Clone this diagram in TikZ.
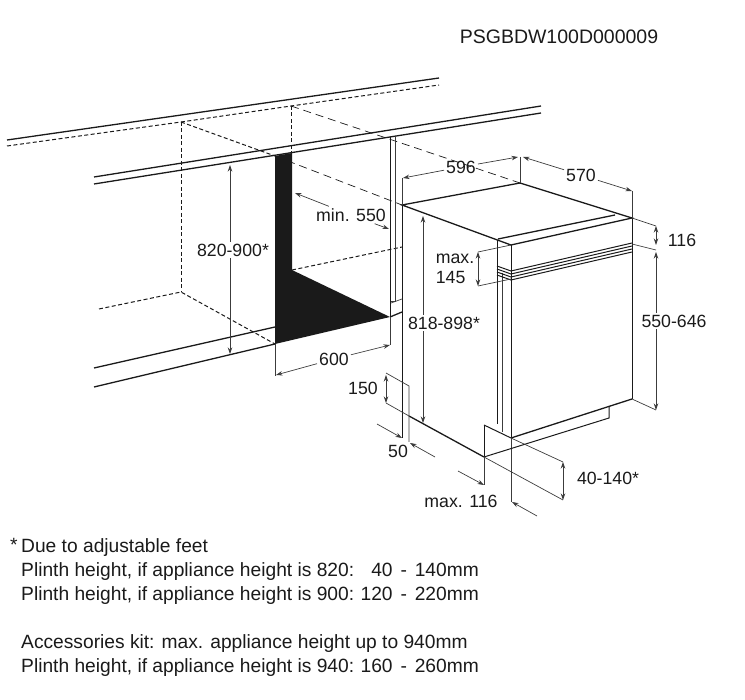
\documentclass[tikz,border=0pt]{standalone}
\usepackage{fontspec}
\usetikzlibrary{arrows.meta}
\setmainfont{Liberation Sans}
\definecolor{ink}{HTML}{1A1A1A}
\tikzstyle{wall} = [draw=ink, line width=1.3pt]
\tikzstyle{edge} = [draw=ink, line width=1.0pt]
\tikzstyle{thin} = [draw=ink!85, line width=0.7pt]
\tikzstyle{hid} = [draw=ink, line width=1.0pt, dash pattern=on 4pt off 2.5pt]
\tikzstyle{hid2} = [draw=ink, line width=0.7pt, dash pattern=on 8pt off 5pt]
\tikzstyle{dimline} = [draw=ink!85, line width=0.7pt, >={Stealth[length=6.5pt, width=4.5pt]}]
\tikzstyle{lbl} = [text=ink, inner sep=2pt, font=\fontsize{17.7}{20}\selectfont]
\tikzstyle{note} = [text=ink, inner sep=0pt, anchor=west, text height=14pt, text depth=4pt, font=\fontsize{19.2}{22}\selectfont]
\tikzstyle{notevalue} = [note, anchor=east, execute at begin node={\spaceskip=0.41em\relax}]

\begin{document}
\begin{tikzpicture}[x=1pt, y=-1pt]
    \useasboundingbox (0, 0) rectangle (745, 700);

    % wall and worktop
    \draw[wall] (7, 140) -- (439, 78);
    \draw[wall] (94, 177) -- (541, 106);
    \draw[wall] (94, 184) -- (541, 113);
    \draw[wall] (94, 368) -- (275, 327);
    \draw[wall] (94, 387) -- (275, 344);
    \draw[wall] (390, 317) -- (402, 312);
    \draw[hid] (7, 146) -- (181, 122) -- (291, 106) -- (439, 85);
    \draw[hid] (99, 309) -- (181, 292) -- (275, 344);
    \draw[hid] (181, 122) -- (181, 292);
    \draw[hid] (181, 122) -- (275, 156);
    \draw[hid] (291, 106) -- (291, 153);
    \draw[hid] (292, 270) -- (402, 247);
    \draw[hid2] (275, 156) -- (402, 205);
    \draw[hid2] (291, 106) -- (520, 183);

    % opening
    \fill[ink] (275, 156) -- (292, 153) -- (292, 270) -- (390, 317) -- (275, 344) -- cycle;
    \draw[edge] (390, 137) -- (390, 317);
    \draw[thin] (395, 136) -- (395, 301) -- (391, 301);
    \draw[thin] (391, 303) -- (402, 299);

    % appliance
    \draw[wall] (402, 205) -- (520, 183) -- (632, 218) -- (511, 245) -- cycle;
    \draw[wall] (498, 239) -- (615, 215);
    \draw[edge] (402, 205) -- (402, 438);
    \draw[edge] (497, 240) -- (497, 424);
    \draw[thin] (502, 273) -- (502, 432);
    \draw[edge] (511, 245) -- (511, 438);
    \draw[thin] (511, 438) -- (511, 502);
    \draw[edge] (632, 218) -- (632, 399);
    \draw[edge] (497, 266) -- (511, 271) -- (632, 243);
    \draw[edge] (497, 269) -- (511, 274) -- (632, 246);
    \draw[edge] (497, 272) -- (511, 277) -- (632, 249);
    \draw[edge] (497, 275) -- (511, 280) -- (632, 252);
    \draw[wall] (511, 438) -- (632, 399);
    \draw[edge] (609, 407) -- (609, 418) -- (484, 457);
    \draw[edge] (484, 425) -- (484, 457);
    \draw[edge] (484, 425) -- (511, 438);
    \draw[wall] (409, 416) -- (484, 457);

    % extension lines
    \draw[thin] (275, 344) -- (275, 376);
    \draw[thin] (390, 317) -- (390, 345);
    \draw[thin] (402, 178) -- (402, 205);
    \draw[thin] (520, 157) -- (520, 183);
    \draw[thin] (632, 191) -- (632, 218);
    \draw[thin] (632, 218) -- (656, 226);
    \draw[thin] (632, 244) -- (656, 250);
    \draw[thin] (632, 399) -- (656, 410);
    \draw[thin] (478, 252) -- (511, 245);
    \draw[thin] (478, 286) -- (511, 279);
    \draw[thin] (386, 373) -- (409, 386) -- (409, 442);
    \draw[thin] (386, 403) -- (409, 416);
    \draw[thin] (511, 438) -- (563, 462);
    \draw[thin] (484, 457) -- (563, 500);
    \draw[thin] (484, 457) -- (484, 485);

    % labels
    \node[lbl] (Code) at (559, 37) {\fontsize{19.5}{22}\selectfont PSGBDW100D000009};
    \node[lbl] (L820) at (233, 250) {820-900*};
    \node[lbl] (L550) at (351, 215) {min. 550};
    \node[lbl] (L600) at (334, 359) {600};
    \node[lbl] (L596) at (461, 167) {596};
    \node[lbl] (L570) at (581, 175) {570};
    \node[lbl] (L116) at (682, 240) {116};
    \node[lbl, align=left] (L145) at (455, 269) {max.\\145};
    \node[lbl] (L818) at (444, 323) {818-898*};
    \node[lbl] (L646) at (674, 321) {550-646};
    \node[lbl] (L150) at (363, 388) {150};
    \node[lbl] (L50) at (398, 451) {50};
    \node[lbl] (L140) at (608, 478) {40-140*};
    \node[lbl] (Lmax) at (461, 501) {max. 116};

    % dimensions
    \coordinate (D1) at (230, 165);
    \coordinate (D2) at (230, 354);
    \draw[dimline, ->] (D1 |- L820.north) -- (D1);
    \draw[dimline, ->] (D2 |- L820.south) -- (D2);
    \coordinate (D3) at (295, 193);
    \coordinate (D4) at (389, 229);
    \draw[dimline, ->] (L550) -- (D3);
    \draw[dimline, ->] (L550) -- (D4);
    \coordinate (D5) at (276, 375);
    \coordinate (D6) at (390, 345);
    \draw[dimline, ->] (L600) -- (D5);
    \draw[dimline, ->] (L600) -- (D6);
    \coordinate (D7) at (403, 178);
    \coordinate (D8) at (518, 157);
    \draw[dimline, ->] (L596) -- (D7);
    \draw[dimline, ->] (L596) -- (D8);
    \coordinate (D9) at (523, 157);
    \coordinate (D10) at (632, 191);
    \draw[dimline, ->] (L570) -- (D9);
    \draw[dimline, ->] (L570) -- (D10);
    \coordinate (D11) at (656, 226);
    \coordinate (D12) at (656, 245);
    \draw[dimline, <->] (D11) -- (D12);
    \coordinate (D13) at (478, 252);
    \coordinate (D14) at (478, 286);
    \draw[dimline, <->] (D13) -- (D14);
    \coordinate (D15) at (423, 216);
    \coordinate (D16) at (423, 423);
    \draw[dimline, ->] (D15 |- L818.north) -- (D15);
    \draw[dimline, ->] (D16 |- L818.south) -- (D16);
    \coordinate (D17) at (656, 252);
    \coordinate (D18) at (656, 410);
    \draw[dimline, ->] (D17 |- L646.north) -- (D17);
    \draw[dimline, ->] (D18 |- L646.south) -- (D18);
    \coordinate (D19) at (386, 375);
    \coordinate (D20) at (386, 403);
    \draw[dimline, <->] (D19) -- (D20);
    \coordinate (D21) at (377, 424);
    \coordinate (D22) at (402, 438);
    \draw[dimline, ->] (D21) -- (D22);
    \coordinate (D23) at (435, 457);
    \coordinate (D24) at (410, 443);
    \draw[dimline, ->] (D23) -- (D24);
    \coordinate (D25) at (563, 462);
    \coordinate (D26) at (563, 500);
    \draw[dimline, <->] (D25) -- (D26);
    \coordinate (D27) at (458, 471);
    \coordinate (D28) at (484, 485);
    \draw[dimline, ->] (D27) -- (D28);
    \coordinate (D29) at (537, 516);
    \coordinate (D30) at (512, 502);
    \draw[dimline, ->] (D29) -- (D30);

    % notes
    \node[note] (Star) at (10, 547) {*};
    \node[note] (T1) at (21, 547.5) {Due to adjustable feet};
    \node[note] (T2) at (21, 571.5) {Plinth height, if appliance height is 820:};
    \node[notevalue] (T2b) at (479, 571.5) {40 - 140mm};
    \node[note] (T3) at (21, 595.5) {Plinth height, if appliance height is 900:};
    \node[notevalue] (T3b) at (479, 595.5) {120 - 220mm};
    \node[note] (T4) at (21, 643.5) {Accessories kit: max. appliance height up to 940mm};
    \node[note] (T5) at (21, 667.5) {Plinth height, if appliance height is 940:};
    \node[notevalue] (T5b) at (479, 667.5) {160 - 260mm};
\end{tikzpicture}
\end{document}
